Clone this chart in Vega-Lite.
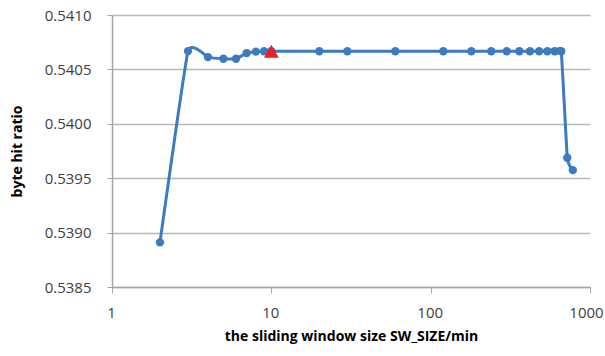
{
  "$schema": "https://vega.github.io/schema/vega-lite/v6.json",
  "width": 478,
  "height": 272,
  "autosize": "none",
  "padding": {"left": 112, "top": 15, "right": 15, "bottom": 69},
  "background": "white",
  "config": {"view": {"stroke": null}, "font": "Open Sans"},
  "datasets": {
    "series": [
      {"size": 2, "ratio": 0.53891},
      {"size": 3, "ratio": 0.540668},
      {"size": 4, "ratio": 0.540613},
      {"size": 5, "ratio": 0.540598},
      {"size": 6, "ratio": 0.540598},
      {"size": 7, "ratio": 0.54065},
      {"size": 8, "ratio": 0.540663},
      {"size": 9, "ratio": 0.540667},
      {"size": 10, "ratio": 0.540667},
      {"size": 20, "ratio": 0.540667},
      {"size": 30, "ratio": 0.540667},
      {"size": 60, "ratio": 0.540667},
      {"size": 120, "ratio": 0.540667},
      {"size": 180, "ratio": 0.540667},
      {"size": 240, "ratio": 0.540667},
      {"size": 300, "ratio": 0.540667},
      {"size": 360, "ratio": 0.540667},
      {"size": 420, "ratio": 0.540667},
      {"size": 480, "ratio": 0.540667},
      {"size": 540, "ratio": 0.540667},
      {"size": 600, "ratio": 0.540667},
      {"size": 660, "ratio": 0.540667},
      {"size": 720, "ratio": 0.539688},
      {"size": 780, "ratio": 0.539574}
    ],
    "marker": [
      {"size": 10, "ratio": 0.540667}
    ]
  },
  "encoding": {
    "x": {
      "field": "size",
      "type": "quantitative",
      "scale": {"type": "log", "domain": [1, 1000], "nice": false},
      "axis": {
        "values": [1, 10, 100, 1000],
        "format": "d",
        "labelFlush": false,
        "labelOffset": {"condition": {"test": "datum.value >= 1000", "value": -4}, "value": -1},
        "grid": false,
        "domainColor": "#A6A6A6",
        "domainWidth": 1.5,
        "tickColor": "#A6A6A6",
        "tickSize": 6,
        "labelPadding": 12,
        "labelFontSize": 15,
        "labelColor": "#404040",
        "title": "the sliding window size SW_SIZE/min",
        "titleFontSize": 14,
        "titleFontWeight": "bold",
        "titleColor": "#000000",
        "titlePadding": 9
      }
    },
    "y": {
      "field": "ratio",
      "type": "quantitative",
      "scale": {"domain": [0.5385, 0.541], "nice": false, "zero": false},
      "axis": {
        "values": [0.5385, 0.539, 0.5395, 0.54, 0.5405, 0.541],
        "format": ".4f",
        "labelFlush": false,
        "grid": true,
        "gridColor": "#B8B8B8",
        "gridWidth": 1.5,
        "domainColor": "#A6A6A6",
        "domainWidth": 1.5,
        "tickColor": "#A6A6A6",
        "tickSize": 5,
        "labelPadding": 16,
        "labelFontSize": 15,
        "labelColor": "#404040",
        "title": "byte hit ratio",
        "titleFontSize": 14,
        "titleFontWeight": "bold",
        "titleColor": "#000000",
        "titlePadding": 20
      }
    }
  },
  "layer": [
    {
      "data": {"name": "series"},
      "mark": {"type": "line", "interpolate": "cardinal", "tension": 0.65, "strokeWidth": 3, "color": "#3C7BC0"}
    },
    {
      "data": {"name": "series"},
      "mark": {"type": "point", "filled": true, "size": 70, "color": "#3C7BC0", "opacity": 1}
    },
    {
      "data": {"name": "marker"},
      "mark": {"type": "point", "shape": "triangle-up", "filled": true, "size": 220, "color": "#EE1C25", "opacity": 1}
    }
  ]
}
